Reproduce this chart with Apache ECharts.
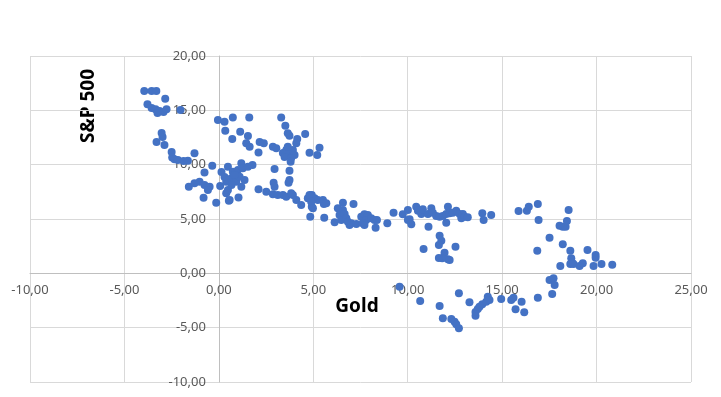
<!DOCTYPE html>
<html lang="en">

<head>
	<title>Gold vs S&amp;P 500</title>
	<meta http-equiv="content-type" content="text/html; charset=utf-8">
	<script src="https://cdn.jsdelivr.net/npm/echarts@6/dist/echarts.min.js"></script>
	<style type="text/css">
		body,
		html {
			margin: 0;
			width: 100%;
			height: 100%;
			background: #fff;
		}
	</style>
</head>

<body>
	<div id="chart" style="width: 721px; height: 397px;"></div>
	<script>
		// axis settings (Excel style, comma decimals)
		var xMin = -10, xMax = 25, xStep = 5;
		var yMin = -10, yMax = 20, yStep = 5;
		var xTitle = 'Gold';
		var yTitle = 'S&P 500';

		// [gold, s&p 500] pairs
		var upperLeft = [
			[-3.95, 16.77], [-3.56, 16.77], [-3.31, 16.77], [-2.84, 16.06], [-3.78, 15.57],
			[-3.56, 15.21], [-3.35, 15.11], [-3.14, 14.93], [-2.93, 14.84], [-2.77, 15.11], [-3.25, 14.75], [-2.03, 15.02],
			[-3.03, 12.91], [-2.98, 12.54], [-3.30, 12.08], [-2.88, 11.80], [-2.50, 11.16], [-2.47, 10.67], [-2.35, 10.49],
			[-2.17, 10.42], [-1.87, 10.33], [-1.64, 10.36], [-1.29, 11.04],
			[-0.76, 9.29], [-0.35, 9.90], [-1.59, 7.97], [-1.29, 8.28], [-1.02, 8.43], [-0.76, 8.12], [-0.49, 7.97],
			[-0.58, 7.66], [-0.81, 6.95], [-0.14, 6.49], [0.53, 6.68], [0.39, 7.36], [0.07, 8.03]
		];
		var upperMid = [
			[-0.05, 14.10], [0.30, 13.95], [0.74, 14.35], [1.61, 14.35], [3.30, 14.35], [3.52, 13.58], [0.34, 13.12],
			[1.13, 13.03], [0.71, 12.36], [1.54, 12.63], [1.45, 11.96], [1.63, 11.65], [2.16, 12.08], [2.38, 11.96],
			[2.10, 11.13], [2.86, 11.65], [3.04, 11.50], [3.65, 12.88], [3.74, 12.66], [4.57, 12.82], [4.15, 12.36], [4.10, 11.96],
			[3.39, 11.07], [3.57, 11.34], [3.74, 11.07], [3.92, 11.34], [4.01, 10.88], [3.48, 10.70], [3.83, 10.61],
			[3.65, 11.65], [3.80, 10.27], [4.80, 11.09], [5.33, 11.55], [5.21, 10.88],
			[2.95, 9.60], [3.74, 9.44], [3.74, 8.58], [3.69, 8.33], [2.90, 8.33], [2.95, 7.97], [2.10, 7.73], [2.51, 7.51],
			[2.86, 7.27], [3.12, 7.20], [3.39, 7.20], [3.57, 7.05], [3.92, 7.20], [4.10, 6.74], [4.36, 6.28], [4.71, 6.90],
			[4.92, 7.20], [5.07, 6.90], [5.24, 6.74], [5.51, 6.74], [5.56, 6.38], [4.92, 6.13],
			[0.48, 9.81], [0.74, 9.35], [1.01, 9.50], [1.19, 10.12], [1.27, 9.66], [1.54, 9.81], [0.66, 8.74], [0.92, 8.43],
			[1.10, 8.89], [1.19, 7.97], [0.48, 7.66], [0.57, 6.74], [1.04, 6.99], [0.39, 8.43], [0.14, 9.32], [0.30, 8.86],
			[0.83, 9.04], [1.36, 8.58], [0.67, 8.12], [1.78, 9.96]
		];
		var middleBand = [
			[3.83, 7.36], [4.80, 7.20], [4.89, 6.59], [4.98, 5.98], [5.69, 6.44], [4.84, 5.21], [5.58, 5.11], [6.13, 4.69],
			[6.57, 6.49], [7.13, 6.38], [6.30, 5.98], [6.57, 5.82], [6.39, 5.36], [6.66, 5.46], [6.48, 4.90], [6.75, 5.06],
			[6.92, 4.44], [6.83, 4.75], [7.01, 4.60], [7.28, 4.54], [7.54, 5.21], [7.71, 5.43], [7.89, 5.36], [7.80, 4.90],
			[8.07, 5.06], [8.24, 4.90], [8.37, 4.90], [7.62, 4.60], [7.71, 4.44], [8.30, 4.20], [8.92, 4.60], [9.25, 5.57],
			[9.74, 5.43], [10.01, 5.82], [10.01, 4.90],
			[10.10, 4.97], [10.19, 4.51], [10.45, 6.13], [10.54, 5.76], [10.72, 5.46], [10.80, 5.89], [11.07, 5.46],
			[11.25, 5.98], [11.33, 5.57], [11.51, 5.27], [11.69, 5.21], [11.86, 5.27], [12.04, 5.46], [12.13, 6.13],
			[12.22, 5.52], [12.39, 5.57], [12.57, 5.76], [12.75, 5.46], [12.84, 5.06], [12.92, 5.46], [13.01, 5.21],
			[13.18, 5.15], [11.10, 4.29], [12.04, 4.65], [13.95, 5.52], [14.42, 5.36], [14.02, 4.90],
			[11.69, 3.46], [11.78, 3.00], [11.65, 2.60], [10.84, 2.24], [12.53, 2.45], [11.95, 1.90], [11.83, 1.38],
			[11.65, 1.41], [12.13, 1.29], [12.22, 1.22]
		];
		var lowerRight = [
			[9.57, -1.23], [10.66, -2.55], [11.69, -3.01], [12.71, -1.84], [11.86, -4.14], [12.31, -4.20], [12.48, -4.45],
			[12.57, -4.69], [12.71, -5.06], [13.27, -2.67], [13.59, -3.90], [13.59, -3.56], [13.71, -3.28], [13.80, -3.07],
			[13.95, -2.85], [14.16, -2.61], [14.24, -2.15], [14.33, -2.46], [14.95, -2.36], [15.48, -2.46], [15.60, -2.24],
			[16.03, -2.61], [15.71, -3.31], [16.17, -3.59], [16.89, -2.24],
			[15.87, 5.73], [16.31, 5.76], [16.41, 6.13], [16.89, 6.38], [16.93, 4.90], [18.52, 5.82], [18.04, 4.38],
			[18.21, 4.29], [18.36, 4.29], [18.43, 4.81], [17.51, 3.28], [16.86, 2.08], [18.21, 2.67], [18.61, 2.08],
			[19.52, 2.14], [19.95, 1.68], [19.95, 1.44], [18.08, 0.67], [18.66, 1.38], [18.71, 0.98], [18.61, 0.86],
			[18.78, 0.86], [19.10, 0.67], [19.27, 0.92], [19.84, 0.67], [20.26, 0.86], [20.83, 0.79],
			[17.51, -0.62], [17.72, -0.46], [17.78, -1.08], [17.65, -1.90]
		];

		var points = upperLeft.concat(upperMid, middleBand, lowerRight);

		var fmt = function (v) {
			return v.toFixed(2).replace('.', ',');
		};

		// plot box
		var W = 721, H = 397;
		var gl = 30, gr = 30, gt = 56, gb = 15;
		var plotW = W - gl - gr, plotH = H - gt - gb;
		// shift the axes (with their labels) so they cross at zero
		var xOffset = -plotH * (0 - yMin) / (yMax - yMin);
		var yOffset = -plotW * (0 - xMin) / (xMax - xMin);

		var chart = echarts.init(document.getElementById('chart'));
		var labelStyle = {
			color: '#595959',
			fontSize: 13,
			fontFamily: 'Noto Sans',
			formatter: fmt
		};

		var option = {
			animation: false,
			backgroundColor: '#fff',
			grid: {
				left: gl,
				right: gr,
				top: gt,
				bottom: gb,
				containLabel: false,
				outerBoundsMode: 'none'
			},
			xAxis: {
				type: 'value',
				min: xMin,
				max: xMax,
				interval: xStep,
				offset: xOffset,
				axisLine: { onZero: false, lineStyle: { color: '#bfbfbf', width: 1 } },
				axisTick: { show: false },
				axisLabel: Object.assign({ margin: 10 }, labelStyle),
				splitLine: { show: true, lineStyle: { color: '#d9d9d9', width: 1 } }
			},
			yAxis: {
				type: 'value',
				min: yMin,
				max: yMax,
				interval: yStep,
				offset: yOffset,
				axisLine: { show: true, onZero: false, lineStyle: { color: '#bfbfbf', width: 1 } },
				axisTick: { show: false },
				axisLabel: Object.assign({ margin: 13 }, labelStyle),
				splitLine: { show: true, lineStyle: { color: '#d9d9d9', width: 1 } }
			},
			graphic: [{
				type: 'text',
				x: 89,
				y: 106,
				rotation: Math.PI / 2,
				style: {
					text: yTitle,
					fill: '#000',
					font: 'bold 19px "Noto Sans"',
					align: 'center',
					verticalAlign: 'middle'
				}
			}, {
				type: 'text',
				x: 357,
				y: 307,
				style: {
					text: xTitle,
					fill: '#000',
					font: 'bold 19px "Noto Sans"',
					align: 'center',
					verticalAlign: 'middle'
				}
			}],
			series: [{
				type: 'scatter',
				symbol: 'circle',
				symbolSize: 8,
				itemStyle: { color: '#4472C4', opacity: 1 },
				data: points
			}]
		};
		chart.setOption(option);
	</script>
</body>

</html>
